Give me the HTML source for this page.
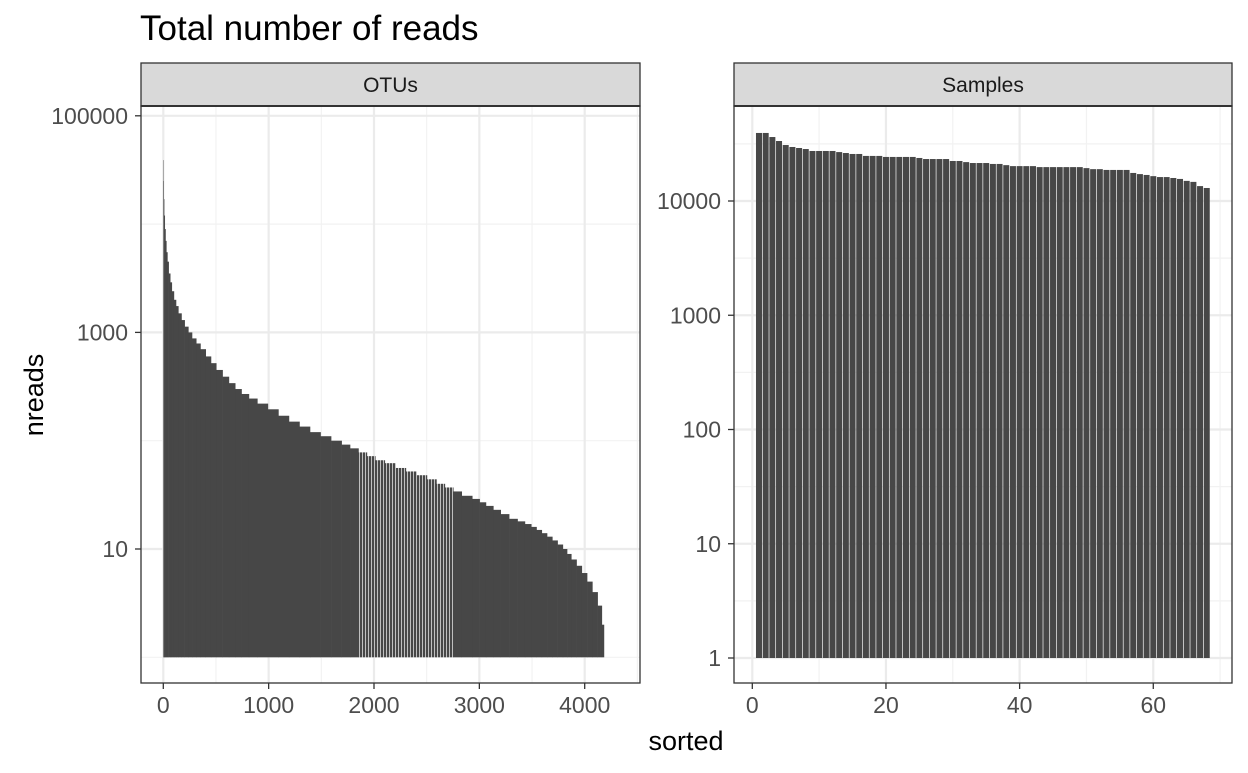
<!DOCTYPE html>
<html><head><meta charset="utf-8"><style>
body{margin:0;background:#fff;width:1248px;height:768px;overflow:hidden}
svg text{font-family:"Liberation Sans",Arial,sans-serif}
</style></head><body>
<svg id="c" width="1248" height="768">
<defs>
<pattern id="stripe" width="3" height="10" patternUnits="userSpaceOnUse"><rect width="3" height="10" fill="#474747"/><rect x="2.2" width="0.8" height="10" fill="#ddd"/></pattern>
</defs>
<text x="140" y="40" font-size="35" fill="#000">Total number of reads</text>
<text x="686" y="750" font-size="27" text-anchor="middle" fill="#000">sorted</text>
<text transform="translate(43,395) rotate(-90)" font-size="27" text-anchor="middle" fill="#000">nreads</text>
</svg>
<script>
// OTUs: run-length of sorted read counts
const otuValues=[39000,25000,17000,12000,9000,7000,5500,4500,3500,2900,2400,2000,1750,1500,1300,1130,1000,880,790,700,600,520,450,390,340,300,270,245,220,195,170,150,135,120,110,100,92,85,78,72,66,62,56,52,48,44,40,37,34,31,29,27,25,23,21,19,18,17,16,15,14,13,12,11,10,9,8,7,6,5,4,3,2];
const otuCounts=[1,2,4,6,7,8,10,12,15,15,20,20,22,30,30,35,35,40,40,50,50,50,60,60,60,60,70,80,100,100,100,100,100,100,100,100,80,80,80,80,90,100,100,100,100,90,80,80,80,100,70,60,70,70,80,80,70,60,50,50,50,50,50,50,40,40,50,50,50,50,50,40,20];
const otuXTicks=[0,1000,2000,3000,4000];
const otuYTicks=[10,1000,100000];
const sampleValues=[39400,39400,36300,33500,30900,29700,29100,28500,27400,27400,27400,27400,26800,26300,25800,25800,24800,24800,24800,24300,24300,24300,24300,24300,23800,23300,23300,23300,23300,22400,22400,21900,21500,21500,21500,21100,21100,20600,20200,20200,20200,20200,19800,19800,19800,19800,19800,19800,19800,19400,19000,19000,18700,18700,18700,18700,17600,17200,16900,16500,16200,16200,15900,15600,15000,14700,13500,13000];
const sampleXTicks=[0,20,40,60];
const sampleYTicks=[1,10,100,1000,10000];

const svg=document.getElementById('c');const NS='http://www.w3.org/2000/svg';
function el(t,a,p){const e=document.createElementNS(NS,t);for(const k in a)e.setAttribute(k,a[k]);(p||svg).appendChild(e);return e;}

function panel(o){
  const g=el('g',{});
  
  
  el('rect',{x:o.x0,y:106,width:o.x1-o.x0,height:577,fill:'#fff'},g);
  o.xMinor.forEach(v=>{const x=o.sx(v);if(x>o.x0&&x<o.x1)el('line',{x1:x,x2:x,y1:106,y2:683,stroke:'#f2f2f2','stroke-width':1.2},g);});
  o.yMinor.forEach(v=>{const y=o.sy(v);if(y>106&&y<683)el('line',{x1:o.x0,x2:o.x1,y1:y,y2:y,stroke:'#f2f2f2','stroke-width':1.2},g);});
  o.xTicks.forEach(v=>{const x=o.sx(v);el('line',{x1:x,x2:x,y1:106,y2:683,stroke:'#ebebeb','stroke-width':2.2},g);});
  o.yTicks.forEach(v=>{const y=o.sy(v);el('line',{x1:o.x0,x2:o.x1,y1:y,y2:y,stroke:'#ebebeb','stroke-width':2.2},g);});
  o.draw(g);
  el('rect',{x:o.x0,y:106,width:o.x1-o.x0,height:577,fill:'none',stroke:'#333','stroke-width':1.3},g);
  const s=el('rect',{x:o.x0,y:63,width:o.x1-o.x0,height:43,fill:'#d9d9d9',stroke:'#333','stroke-width':1.3},g);
  
  
  el('line',{x1:o.x0,x2:o.x1,y1:106,y2:106,stroke:'#333','stroke-width':2},g);
  const st=el('text',{x:(o.x0+o.x1)/2,y:92,'font-size':21,'text-anchor':'middle',fill:'#1a1a1a'},g);st.textContent=o.label;
  o.xTicks.forEach(v=>{const x=o.sx(v);el('line',{x1:x,x2:x,y1:683,y2:689,stroke:'#333','stroke-width':1.3},g);
    const t=el('text',{x:x,y:713,'font-size':23,'text-anchor':'middle',fill:'#4d4d4d'},g);t.textContent=v;
    });
  o.yTicks.forEach(v=>{const y=o.sy(v);el('line',{x1:o.x0-6,x2:o.x0,y1:y,y2:y,stroke:'#333','stroke-width':1.3},g);
    const t=el('text',{x:o.x0-13,y:y+8,'font-size':23,'text-anchor':'end',fill:'#4d4d4d'},g);t.textContent=v;
    });
}

const ox=v=>163.3+v*0.10535;
const oy=v=>549-(Math.log10(v)-1)*108.3;
panel({name:'otus-panel',label:'OTUs',x0:141,x1:640,sx:ox,sy:oy,xTicks:otuXTicks,yTicks:otuYTicks,
  xMinor:[500,1500,2500,3500,4500],yMinor:[1,100,10000],
  draw:g=>{let r=0;otuValues.forEach((v,i)=>{const c=otuCounts[i];const x=ox(r+0.5);const w=ox(r+c+0.5)-x;
    const striped=r>=1850&&r<2750;
    const b=el('rect',{x:x,y:oy(v),width:w+0.3,height:oy(1)-oy(v),fill:striped?'url(#stripe)':'#474747'},g);
    r+=c;});}});

const sx=v=>752.3+v*6.683;
const sy=v=>658-Math.log10(v)*114.25;
panel({name:'samples-panel',label:'Samples',x0:734,x1:1232,sx:sx,sy:sy,xTicks:sampleXTicks,yTicks:sampleYTicks,
  xMinor:[10,30,50,70],yMinor:[Math.pow(10,-0.5),Math.pow(10,0.5),Math.pow(10,1.5),Math.pow(10,2.5),Math.pow(10,3.5),Math.pow(10,4.5)],
  draw:g=>{const bw=0.9*(sx(1)-sx(0));sampleValues.forEach((v,i)=>{const x=sx(i+1)-bw/2;
    const b=el('rect',{x:x,y:sy(v),width:bw,height:sy(1)-sy(v),fill:'#474747'},g);
    });}});
</script>
</body></html>
